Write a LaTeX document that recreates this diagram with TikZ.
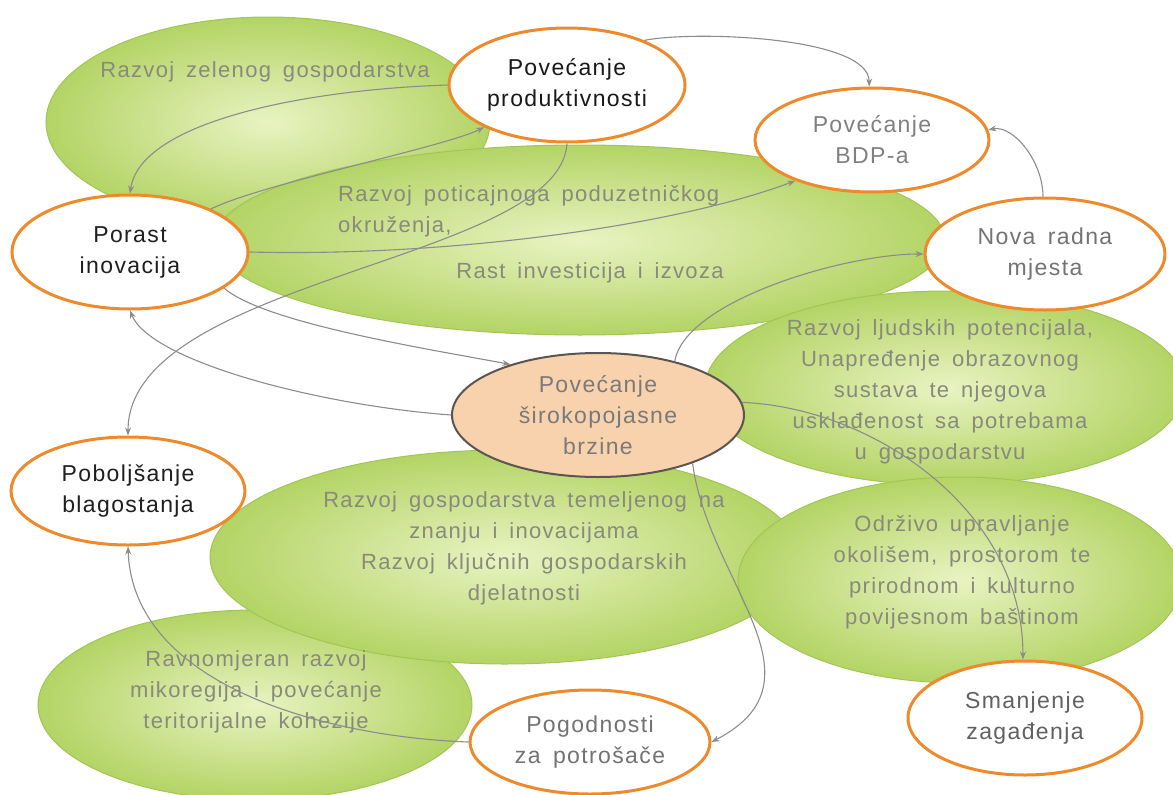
\documentclass[tikz,border=0pt]{standalone}
\usepackage{fontspec}
\setmainfont{Liberation Sans}
\newfontfamily\lblfont[LetterSpace=6,WordSpace=1.6]{Liberation Sans}
\usetikzlibrary{shapes.geometric,arrows.meta}
\definecolor{ringorange}{HTML}{EE8A2B}
\definecolor{leafin}{HTML}{E9F3C2}
\definecolor{leafout}{HTML}{B3D465}
\definecolor{leafedge}{HTML}{A2C655}
\definecolor{leaftext}{HTML}{8A8A7C}
\definecolor{corefill}{HTML}{F8D2AC}
\definecolor{coreedge}{HTML}{5A5550}
\definecolor{linkgray}{HTML}{8C8C8C}
\begin{document}
\begin{tikzpicture}[x=1pt,y=1pt]
            \tikzstyle{every node}+=[inner sep=0pt, align=center, font=\lblfont\fontsize{23}{31}\selectfont]
            \tikzstyle{leaf}=[ellipse, draw=leafedge, line width=1pt, inner color=leafin, outer color=leafout]
            \tikzstyle{leaftxt}=[text=leaftext, font=\lblfont\fontsize{22}{31}\selectfont]
            \tikzstyle{goal}=[ellipse, draw=ringorange, line width=3pt, fill=white]
            \tikzstyle{link}=[draw=linkgray, line width=1.1pt, -{Stealth[length=8pt,width=6pt]}]
            \clip (0,0) rectangle (1173,-795);
            % green areas
            \node [leaf, minimum width=444pt, minimum height=210pt] (zelen) at (268,-122) {};
            \node [leaf, minimum width=730pt, minimum height=190pt] (potic) at (580,-240) {};
            \node [leaf, minimum width=434pt, minimum height=190pt] (ravn) at (255,-705) {};
            \node [leaf, minimum width=590pt, minimum height=214pt] (znanje) at (505,-557) {};
            \node [leaf, minimum width=480pt, minimum height=194pt] (ljudi) at (945,-388) {};
            \node [leaf, minimum width=444pt, minimum height=206pt] (okolis) at (960,-580) {};
            \node [leaftxt] (zelentxt) at (265,-72) {Razvoj zelenog gospodarstva};
            \node [leaftxt, anchor=west, align=left] (potictxt) at (338,-211) {Razvoj poticajnoga poduzetničkog\\okruženja,};
            \node [leaftxt] (rasttxt) at (590,-273) {Rast investicija i izvoza};
            \node [leaftxt] (ljuditxt) at (940,-392) {Razvoj ljudskih potencijala,\\Unapređenje obrazovnog\\sustava te njegova\\usklađenost sa potrebama\\u gospodarstvu};
            \node [leaftxt] (znanjetxt) at (524,-548) {Razvoj gospodarstva temeljenog na\\znanju i inovacijama\\Razvoj ključnih gospodarskih\\djelatnosti};
            \node [leaftxt] (okolistxt) at (962,-572) {Održivo upravljanje\\okolišem, prostorom te\\prirodnom i kulturno\\povijesnom baštinom};
            \node [leaftxt] (ravntxt) at (256,-692) {Ravnomjeran razvoj\\mikoregija i povećanje\\teritorijalne kohezije};
            % goals
            \node [goal, minimum width=236pt, minimum height=114pt, text=black!90] (prod) at (567,-85) {Povećanje\\produktivnosti};
            \node [goal, minimum width=234pt, minimum height=104pt, text=black!50] (bdp) at (872,-140) {Povećanje\\BDP-a};
            \node [goal, minimum width=240pt, minimum height=112pt, text=black!55] (nova) at (1045,-254) {Nova radna\\mjesta};
            \node [goal, minimum width=236pt, minimum height=114pt, text=black!88] (porast) at (130,-252) {Porast\\inovacija};
            \node [goal, minimum width=234pt, minimum height=108pt, text=black!88] (pobolj) at (128,-491) {Poboljšanje\\blagostanja};
            \node [goal, minimum width=234pt, minimum height=114pt, text=black!62] (smanj) at (1025,-718) {Smanjenje\\zagađenja};
            \node [goal, minimum width=240pt, minimum height=104pt, text=black!55] (pogod) at (590,-742) {Pogodnosti\\za potrošače};
            \node [ellipse, draw=coreedge, line width=2pt, fill=corefill, text=black!52, minimum width=292pt, minimum height=124pt] (ctr) at (598,-415) {Povećanje\\širokopojasne\\brzine};
            % links
            \draw [link] (prod.30) .. controls +(50,10) and +(0,50) .. (bdp.93);
            \draw [link] (nova.92) .. controls +(0,35) and +(25,5) .. (bdp.5);
            \draw [link] (prod.180) .. controls +(-150,-5) and +(10,70) .. (porast.90);
            \draw [link] (porast.28) .. controls +(50,25) and +(-40,-20) .. (prod.207);
            \draw [link] (porast.0) .. controls +(200,-5) and +(-120,-45) .. (bdp.208);
            \draw [link] (prod.270) .. controls +(-7,-118) and +(0,157) .. (pobolj.90);
            \draw [link] (porast.-21) .. controls +(40,-35) and +(-80,15) .. (ctr.150);
            \draw [link] (ctr.180) .. controls +(-135,10) and +(20,-50) .. (porast.270);
            \draw [link] (ctr.35) .. controls +(10,60) and +(-80,0) .. (nova.180);
            \draw [link] (ctr.5) .. controls +(130,-5) and +(0,150) .. (smanj.92);
            \draw [link] (ctr.-27) .. controls +(15,-118) and +(120,62) .. (pogod.0);
            \draw [link] (pogod.180) .. controls +(-140,5) and +(5,-140) .. (pobolj.270);
\end{tikzpicture}
\end{document}
